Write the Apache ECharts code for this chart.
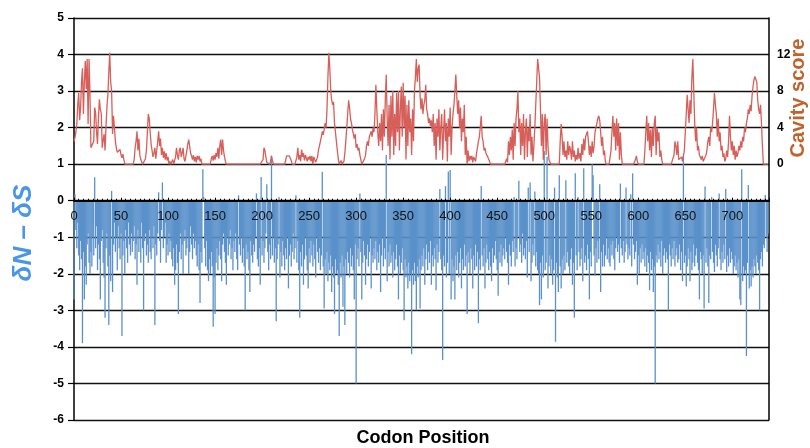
<!DOCTYPE html>
<html><head><meta charset="utf-8">
<script src="https://cdn.jsdelivr.net/npm/echarts@6/dist/echarts.min.js"></script>
<style>html,body{margin:0;padding:0;background:#fff}#c{width:810px;height:448px}</style>
</head><body><div id="c"></div>
<script>
// dN - dS per codon position (index = codon position 0..738)
const dnds = [
-2.7,0.18,-0.8,-1.3,-0.6,-1.5,-1.9,-1.1,-1.6,-3.9,
-1.4,-2.7,-1.8,-2.3,-1.2,-0.9,-1.7,-2.0,-1.4,-1.8,
-1.0,-1.5,0.64,-1.3,-0.7,-1.9,-1.2,-1.6,-2.7,-1.1,
-0.8,-1.7,-2.1,-3.2,-1.3,-0.9,-1.8,-3.4,-1.5,-2.2,
0.27,-2.5,-1.2,-0.6,-1.4,-1.0,-1.9,-0.7,-1.3,-1.6,
-0.9,-3.7,-1.5,-1.1,-2.0,-0.8,-1.3,-1.7,-0.6,-1.2,
-1.5,-0.9,-1.4,-1.1,-0.7,-1.6,-1.2,-2.3,-0.8,-1.4,
-1.0,-1.7,-0.6,-1.3,-3.0,-1.1,-0.9,-1.5,-1.2,-1.7,
-0.8,-1.4,-1.6,-1.0,-1.3,-0.7,-3.4,-1.2,-1.5,-0.9,
0.23,-1.1,-1.7,-0.8,0.5,-1.3,-1.0,-0.6,-1.7,-1.2,
-1.5,-0.9,-1.4,-1.1,-1.6,-1.8,-1.3,-2.3,-1.9,-1.2,
-1.7,-3.1,-1.4,-0.9,-1.6,-1.2,-2.0,-1.1,-0.8,-1.5,
-1.3,-1.0,-2.0,-1.4,-0.7,-1.2,-1.6,-0.9,-1.3,-1.1,
-1.5,-1.8,-1.2,-1.9,-2.8,-1.4,-1.7,0.86,0.1,-1.3,
-1.8,-1.1,-1.9,-2.2,-1.6,-2.0,-1.4,-1.8,-3.45,-2.1,
-3.1,-1.7,-1.3,-1.9,-1.5,-1.1,-1.6,-2.2,-1.2,-0.9,
-1.4,-1.7,-2.3,-1.0,-1.5,-1.2,-0.8,-1.6,-1.3,-1.9,
-1.1,-1.4,-0.9,-1.6,-1.9,0.15,-1.2,-1.5,-1.0,-1.7,
-1.3,-1.8,-3.0,-1.2,-1.6,-1.4,-1.9,-2.5,-1.1,-1.5,
-1.7,-1.2,-1.4,-1.0,0.2,-1.6,-1.8,-1.3,-2.3,0.65,
-1.5,-1.1,-1.7,-1.3,-0.9,0.45,-1.4,-1.9,-1.2,-1.6,
1.23,-1.5,-1.0,-1.7,-1.3,-3.3,-1.6,-1.2,0.1,-2.1,
-1.4,-1.8,-1.1,-1.5,-1.9,-1.3,-1.6,-1.0,-2.4,-1.5,
-1.2,-1.8,-1.4,-0.9,-1.6,-1.3,0.15,-1.7,-1.1,-1.9,
-3.2,-1.4,-1.8,-1.2,-2.3,-1.6,-1.0,-1.5,-1.9,-2.4,
-1.3,-1.7,-1.1,-1.5,-1.8,-1.2,-1.6,-2.1,-1.0,-1.4,
-1.7,-1.3,-1.9,-1.5,0.79,-1.8,-2.95,-1.6,-2.0,-1.4,
-2.2,-1.7,-1.9,-1.5,-2.5,-1.8,-2.1,-3.1,-1.6,-2.0,
-1.9,-2.3,-3.7,-1.7,-2.1,-1.5,-2.9,-1.8,-3.4,-1.6,
-2.0,-1.4,-1.7,-2.1,-1.3,-1.8,-1.5,-1.9,-2.7,-1.2,
-5.0,-1.6,-1.3,-1.8,0.2,-1.4,-2.7,-1.7,-1.1,-1.5,
-2.3,-1.6,-1.2,-1.8,-1.4,-1.0,-2.4,-1.5,-1.7,-1.3,
-1.6,-1.1,-1.9,-1.4,-1.7,-1.2,-2.5,-1.5,-1.0,-1.8,
-1.3,-1.6,1.25,-2.2,-1.4,-1.8,-1.2,-1.7,-1.5,-2.1,
-1.4,-1.9,-1.6,-1.2,-1.8,-2.7,-1.5,-2.0,-1.7,-1.3,
-1.9,-3.27,-1.6,-2.1,-1.8,-2.4,-1.7,-2.2,-2.0,-4.2,
-1.9,-2.3,-1.7,-2.2,-3.0,-1.8,-2.1,-1.6,-2.95,-1.9,
-1.5,-1.8,-1.3,-2.3,-1.6,-1.2,-1.9,-1.4,-1.7,-1.1,
-2.3,-1.5,-1.8,-1.3,-1.6,-2.45,-1.2,-1.7,-1.4,0.32,
-1.6,-1.9,-4.36,-1.5,-1.8,0.4,-2.1,-1.7,0.8,-2.0,
0.84,-2.7,-1.6,-2.2,-1.8,-2.7,-1.5,-1.9,-1.4,-2.1,
-1.7,-1.3,-2.4,-1.6,-1.9,-1.2,-1.8,-1.5,-3.1,-1.4,
-1.7,-2.0,-1.3,-1.6,-2.4,-1.5,-1.9,-1.2,-1.8,-1.4,
-3.35,-1.6,-1.9,0.4,-1.5,-1.8,-1.3,-2.4,-1.7,-1.2,
-1.6,-1.9,-1.4,-1.8,-2.2,-1.3,-1.7,-1.5,-1.1,-1.6,
-1.9,-2.6,-1.4,-1.7,-1.2,-1.8,-1.5,-1.3,-1.6,-1.0,
-1.4,-1.7,-2.3,-1.2,-1.5,-1.8,-1.1,-1.4,0.1,-1.8,
-1.3,-1.6,-1.0,0.55,-1.4,-1.2,-1.7,-0.9,-1.5,-1.3,
-1.6,-1.1,-2.1,0.36,-1.4,0.5,-2.2,-1.7,-1.2,-1.5,
0.25,-1.8,-1.4,-1.9,-2.0,-2.86,-1.7,-2.7,-1.5,-2.1,
1.36,-1.9,-1.7,1.2,-2.4,-1.8,-1.5,-2.0,-1.6,-2.3,
-1.9,0.36,-3.86,-1.7,-2.1,-2.5,0.7,-1.8,-2.4,-1.6,
-2.0,-1.5,-1.9,0.56,-1.7,-1.4,-1.8,-2.0,-1.6,-1.3,
-2.3,-1.7,-3.2,0.75,-1.5,-1.9,0.1,-1.4,-1.8,-1.6,
-1.3,-2.2,0.89,-1.7,-1.5,-1.9,-1.2,-1.6,-2.7,-1.4,
-1.8,1.0,0.7,-1.5,-2.05,-1.3,-1.7,-1.1,-1.6,0.45,
-2.5,-1.4,-1.8,-1.2,-1.8,-1.5,-1.0,-1.6,-1.3,-1.7,
-1.8,-1.2,-1.5,-1.1,-1.6,-1.9,-1.3,-1.0,-1.4,-1.2,
-1.7,0.47,-1.3,-1.5,-1.1,-1.7,-1.4,0.36,-1.2,-1.6,
-1.3,-1.5,0.18,-1.8,0.75,-1.2,-1.6,-1.4,-1.1,-2.3,
-1.5,-2.0,-1.3,-1.7,-1.2,-1.6,-1.4,-1.8,-1.3,-1.95,
-1.5,-1.7,-2.45,-1.4,-1.9,-1.6,-2.5,-1.8,-5.0,-1.5,
-1.7,-1.2,-1.6,-1.4,-1.8,-1.1,-2.0,-1.5,-1.3,-1.7,
-1.4,-1.6,-3.0,-1.2,-1.5,-1.8,-1.3,-1.6,-1.1,-1.8,
-1.5,-1.3,-1.7,-1.6,-1.2,-1.9,-1.4,-2.2,1.23,-1.7,
-1.5,-2.35,-1.8,-1.3,-1.6,-2.2,-1.4,-1.9,-1.7,-1.2,
-1.8,-1.5,-1.3,-1.7,-1.9,-2.7,-1.4,-1.6,-2.0,-1.5,
-2.95,0.39,-1.7,-1.3,-1.8,-2.8,-1.5,-1.6,0.1,-1.4,
-1.7,-1.95,-1.2,-1.5,-1.8,-1.3,0.2,-1.6,-1.9,-1.4,
-1.7,-1.2,-1.6,0.32,-1.95,-1.5,-1.8,-1.3,-1.7,-1.4,
-1.6,-2.0,-1.8,-1.5,-1.9,-1.7,-2.1,-1.6,-2.7,-2.85,
0.86,-2.2,-1.8,-2.0,-1.9,-4.25,-1.7,0.43,-2.4,-1.9,
-2.35,-1.8,-2.1,-1.6,-1.8,-2.0,-1.5,-1.7,-1.9,-3.0,
-1.6,-1.4,-1.8,-1.2,-1.3,0.16,-1.0,-1.4,-0.9
];
// Cavity score per codon position
const cavity = [
2.5,2.9,3.5,4.4,6.5,7.8,4.8,6.2,9.0,10.5,
5.5,9.0,11.3,8.2,11.5,4.4,11.5,7.6,1.8,1.8,
2.0,2.5,6.2,5.6,3.5,2.2,5.1,7.1,6.0,5.5,
1.8,2.6,3.3,1.5,4.0,6.2,7.6,10.0,12.2,9.0,
8.0,3.3,5.3,4.0,2.5,1.8,1.3,1.1,1.4,1.6,
1.0,0.7,1.1,0.5,0,0,0,0,0,0,
0,0,0,0,0.5,1.8,2.5,3.6,1.5,2.8,
1.0,0.5,0.3,0,0,0.2,0.6,1.5,3.5,5.5,
5.0,3.5,2.2,1.5,0.8,1.2,1.8,0.6,1.5,2.5,
3.6,2.0,2.8,1.0,1.8,0.7,1.4,0.5,1.2,0.4,
0.8,0,0.3,0,0,0.5,0,0,0.8,1.8,
1.0,0.5,1.5,1.8,0.8,1.2,1.8,0.6,0.3,0.5,
1.5,2.2,2.7,2.7,1.2,0.9,0.5,1.0,0.3,0.8,
0.2,0.9,0.5,0.9,0.3,0.6,0,0,0,0,
0,0,0,0,0,0,0.6,0.9,0.4,1.0,
0.5,1.2,0.8,1.8,0.6,2.0,2.7,1.0,2.7,1.5,
0.8,0.3,0,0,0,0,0,0,0,0,
0,0,0,0,0,0,0,0,0,0,
0,0,0,0,0,0,0,0,0,0,
0,0,0,0,0,0,0,0,0,0,
0,0.5,1.8,1.5,0.8,0.2,0,0,0,0.3,
0.9,0.4,0,0,0,0,0,0,0,0,
0,0,0,0,0,0.4,0.9,0.9,0.9,0.9,
0.9,0.4,0,0,0,0,0,0.8,1.8,0.5,
1.0,0.3,1.6,0.8,1.2,0.4,1.0,0.9,0.3,0.8,
0.5,0.9,0.3,0.9,0,0.8,0.9,0.2,0,0.8,
1.6,2.0,2.5,3.0,3.6,3.2,3.8,4.5,4.0,6.0,
9.5,12.2,10.5,8.0,7.0,6.5,6.8,4.5,3.5,2.5,
1.5,0.6,0,0,0.4,0,0,0.3,1.2,2.5,
4.0,5.5,7.0,6.2,5.0,4.5,3.8,4.0,2.8,3.3,
1.8,2.2,1.5,1.8,1.0,0.5,0,0,0,0.6,
1.0,2.0,2.5,2.0,3.0,2.8,3.6,3.0,4.0,3.5,
5.5,8.7,6.0,3.5,2.0,4.5,2.5,5.5,1.5,6.0,
3.0,7.0,9.8,5.0,2.0,6.5,0.5,7.5,3.0,8.0,
1.0,5.5,2.0,7.8,3.5,8.0,1.5,6.0,8.5,3.0,
8.9,4.0,7.5,0.5,6.5,2.0,7.0,3.5,5.0,1.0,
6.0,2.5,8.0,9.5,11.5,9.0,10.5,10.9,7.5,6.0,
7.2,5.5,6.5,7.0,8.7,6.0,5.5,4.5,5.0,4.2,
4.8,3.5,5.5,2.0,4.5,0.5,5.0,3.0,6.0,1.5,
4.0,5.5,0.5,3.5,6.0,2.5,4.5,0.3,5.0,3.0,
6.2,1.0,4.0,5.5,6.5,8.0,9.8,7.5,5.5,7.0,
4.0,6.2,2.5,5.0,3.5,6.5,1.0,3.0,0,1.5,
0.3,0.9,0.5,0.9,0.2,0.8,0.9,0.3,1.2,1.8,
2.5,3.0,4.0,5.3,3.0,2.5,1.5,1.8,1.2,1.0,
0.8,0.5,0.3,0,0,0,0,0,0,0,
0,0,0,0,0,0,0,0,0,0,
0.6,0.2,2.5,1.0,3.0,1.5,3.8,0.5,4.5,2.0,
5.0,6.0,8.0,3.5,5.0,1.0,4.5,2.0,5.5,0.5,
3.5,5.0,0.8,4.0,2.5,5.5,1.0,3.0,0.3,2.0,
4.0,6.5,9.0,11.5,11.5,9.5,6.0,2.0,5.5,0.5,
4.5,5.5,1.0,5.0,2.0,0.5,0.3,0,0,0,
0,0,0,0,0,0,0,2.5,4.4,3.0,
1.0,2.5,0.8,1.5,0.5,2.5,1.0,2.0,1.5,0.5,
2.5,0.8,1.5,0.3,1.0,0.5,1.8,0.6,1.2,0.3,
2.2,1.0,2.8,1.5,3.0,3.3,3.6,2.5,1.0,2.0,
0.8,2.5,1.2,2.0,3.5,4.0,4.5,5.0,5.3,4.8,
3.5,2.0,3.0,1.0,1.5,0.3,0,0,0,0,
0,1.5,3.5,5.3,3.0,4.5,1.5,5.0,2.0,4.5,
0.5,3.5,1.0,0,0,0,0,0,0,0,
0,0,0,0,0,0,0,0.5,0.9,0.3,
0,0,0,0,0,0,0,1.5,3.5,5.3,
2.5,4.5,1.5,3.8,0.8,4.0,2.0,4.5,5.3,1.0,
4.0,2.5,3.5,0.8,1.5,0.5,0,0,0,0,
0,0,0,0,0,0,0,0,1.0,2.5,
2.0,1.0,2.5,0.5,0.3,0.6,0.8,0.3,0.5,1.5,
3.5,5.5,7.6,6.0,4.5,7.0,5.5,9.5,11.5,8.0,
4.5,2.5,4.0,1.5,2.0,1.0,0.8,0.5,0.9,0.3,
0.5,0.2,1.0,1.5,2.5,3.0,2.0,4.0,3.5,4.5,
6.0,7.8,6.5,5.5,3.0,5.0,2.5,3.5,1.5,2.0,
0.8,1.2,0.3,0.6,1.5,0.8,2.5,5.3,3.0,1.5,
2.5,1.0,2.0,0.5,1.5,0.8,1.2,2.0,1.5,2.5,
1.8,3.0,2.5,4.0,3.5,4.5,5.0,6.0,5.5,6.5,
5.8,7.5,8.5,9.2,9.6,9.4,9.0,7.0,6.0,5.5,
6.5,4.5,2.0,0,0,0,0,0,0
];
const leftTicks = [-6,-5,-4,-3,-2,-1,0,1,2,3,4,5];
const rightTickLabels = [0,4,8,12];
const xMax = 739;

const FONT = 'Liberation Sans';
const GRID_TOP = 18, GRID_BOTTOM = 28, H = 448;
const yMin = leftTicks[0], yMax = leftTicks[leftTicks.length-1];
const plotH = H - GRID_TOP - GRID_BOTTOM;
// shift the x axis (line + labels) from the plot bottom up to the y=0 level
const zeroOffset = -plotH * (0 - yMin) / (yMax - yMin);

const chart = echarts.init(document.getElementById('c'), null, {renderer:'canvas'});
chart.setOption({
  animation:false,
  backgroundColor:'#fff',
  grid:{left:74,right:41,top:GRID_TOP,bottom:GRID_BOTTOM,containLabel:false},
  xAxis:{
    type:'value', min:0, max:xMax, interval:50, z:5, position:'bottom', offset:zeroOffset,
    axisLine:{show:true,onZero:false,lineStyle:{color:'#000',width:2}},
    axisTick:{show:true,inside:true,length:3,lineStyle:{color:'#000',width:1}},
    minorTick:{show:true,splitNumber:10,length:2,lineStyle:{color:'#000',width:1}},
    splitLine:{show:false},
    axisLabel:{color:'#111',fontFamily:FONT,fontSize:13,margin:9,showMaxLabel:false,
      formatter:v=> (v%50===0 && v<=700) ? String(v) : ''}
  },
  yAxis:[
    {type:'value',min:yMin,max:yMax,interval:1,position:'left',
     axisLine:{show:true,onZero:false,lineStyle:{color:'#000',width:1.5}},
     axisTick:{show:true,length:6,lineStyle:{color:'#000',width:1.2}},
     splitLine:{show:true,lineStyle:{color:'#111',width:1.3}},
     axisLabel:{color:'#000',fontFamily:FONT,fontSize:12,fontWeight:'bold',margin:10}},
    {type:'value',min:-28,max:16,interval:4,position:'right',
     axisLine:{show:true,onZero:false,lineStyle:{color:'#000',width:1.5}},
     axisTick:{show:false},
     splitLine:{show:false},
     axisLabel:{color:'#000',fontFamily:FONT,fontSize:12,fontWeight:'bold',margin:8,
       formatter:v=> rightTickLabels.indexOf(v)>=0 ? String(v) : ''}}
  ],
  series:[
    {type:'bar',yAxisIndex:0,barWidth:1.3,
     data:dnds.map((v,i)=>[i,v]),
     itemStyle:{color:'#5a91ca'},z:2},
    {type:'line',yAxisIndex:1,showSymbol:false,
     data:cavity.map((v,i)=>[i,v]),
     lineStyle:{color:'#d65f5a',width:1.3},z:3}
  ],
  graphic:[
    {type:'text',x:24,y:233,rotation:Math.PI/2,
     style:{text:'δN – δS',fill:'#4a96e6',font:'italic bold 26px "Liberation Sans"',
       align:'center',verticalAlign:'middle'}},
    {type:'text',x:798,y:98,rotation:Math.PI/2,
     style:{text:'Cavity score',fill:'#c0622b',font:'bold 20px "Liberation Sans"',
       align:'center',verticalAlign:'middle'}},
    {type:'text',x:423,y:438,
     style:{text:'Codon Position',fill:'#000',font:'bold 18px "Liberation Sans"',
       align:'center',verticalAlign:'middle'}}
  ]
});
</script></body></html>
